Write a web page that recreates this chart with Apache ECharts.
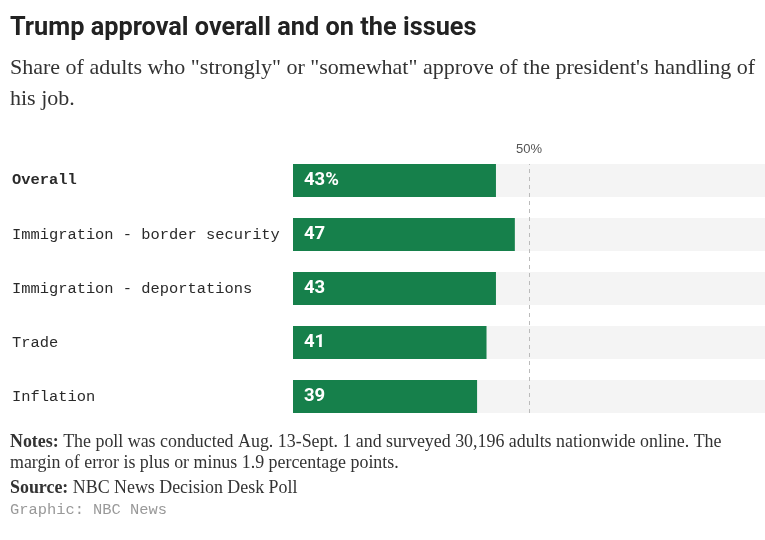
<!DOCTYPE html>
<html><head><meta charset="utf-8">
<script src="https://cdn.jsdelivr.net/npm/echarts@6/dist/echarts.min.js"></script>
<style>html,body{margin:0;padding:0;background:#fff}#c{width:765px;height:540px}</style>
</head><body><div id="c"></div>
<script>
var categories = ['Overall', 'Immigration - border security', 'Immigration - deportations', 'Trade', 'Inflation'];
var values = [43, 47, 43, 41, 39];
var valueLabels = ['43%', '47', '43', '41', '39'];
var referenceValue = 50;
var referenceLabel = '50%';

var chart = echarts.init(document.getElementById('c'));
var serif = "Liberation Serif";
var mono = "Liberation Mono";
chart.setOption({
  animation: false,
  grid: [
    {left: 293, right: 0, top: 153.5, height: 270},
    {left: 293, right: 0, top: 164, height: 249}
  ],
  xAxis: [
    {gridIndex: 0, type: 'value', min: 0, max: 100, show: false},
    {gridIndex: 1, type: 'value', min: 0, max: 100, show: false}
  ],
  yAxis: [
    {gridIndex: 0, type: 'category', data: categories, inverse: true,
     axisLine: {show: false}, axisTick: {show: false},
     axisLabel: {align: 'left', margin: 281, fontFamily: mono, fontSize: 15.4, color: '#2a2a2a',
       formatter: function (v, i) { return i === 0 ? '{b|' + v + '}' : v; },
       rich: {b: {fontFamily: mono, fontSize: 15.4, fontWeight: 'bold', color: '#2a2a2a'}}}},
    {gridIndex: 1, type: 'value', min: 0, max: 1, show: false}
  ],
  series: [
    {type: 'bar', xAxisIndex: 0, yAxisIndex: 0, data: values, barWidth: 33,
     itemStyle: {color: '#16804b'},
     showBackground: true, backgroundStyle: {color: '#f4f4f4'},
     label: {show: true, position: 'insideLeft', distance: 11, color: '#fff',
       fontFamily: 'Roboto', fontWeight: 'bold', fontSize: 18.5,
       formatter: function (p) { return valueLabels[p.dataIndex]; }}},
    {type: 'line', xAxisIndex: 1, yAxisIndex: 1, data: [], silent: true,
     markLine: {symbol: 'none', silent: true,
       lineStyle: {color: '#bbb', type: [4, 4], width: 1},
       label: {show: true, position: 'end', formatter: referenceLabel, color: '#555',
         fontFamily: 'Liberation Sans', fontSize: 13, distance: 8},
       data: [[{coord: [referenceValue, 0]}, {coord: [referenceValue, 1]}]]}}
  ],
  graphic: [
    {type: 'text', left: 10, top: 16, style: {text: 'Trump approval overall and on the issues',
      font: "bold 25.3px Roboto", fill: '#222'}},
    {type: 'text', left: 10, top: 53, style: {text: 'Share of adults who "strongly" or "somewhat" approve of the president\'s handling of\nhis job.',
      font: "22px 'Liberation Serif'", fill: '#333', lineHeight: 31}},
    {type: 'text', left: 10, top: 431.5, style: {text: '{b|Notes:} The poll was conducted Aug. 13-Sept. 1 and surveyed 30,196 adults nationwide online. The\nmargin of error is plus or minus 1.9 percentage points.',
      font: "17.9px 'Liberation Serif'", fill: '#333', lineHeight: 21,
      rich: {b: {fontWeight: 'bold', fontFamily: serif, fontSize: 17.9, fill: '#333', lineHeight: 21}}}},
    {type: 'text', left: 10, top: 477.5, style: {text: '{b|Source:} NBC News Decision Desk Poll',
      font: "17.9px 'Liberation Serif'", fill: '#333', lineHeight: 21,
      rich: {b: {fontWeight: 'bold', fontFamily: serif, fontSize: 17.9, fill: '#333', lineHeight: 21}}}},
    {type: 'text', left: 10, top: 502, style: {text: 'Graphic: NBC News',
      font: "15.4px 'Liberation Mono'", fill: '#999'}}
  ]
});
</script></body></html>
